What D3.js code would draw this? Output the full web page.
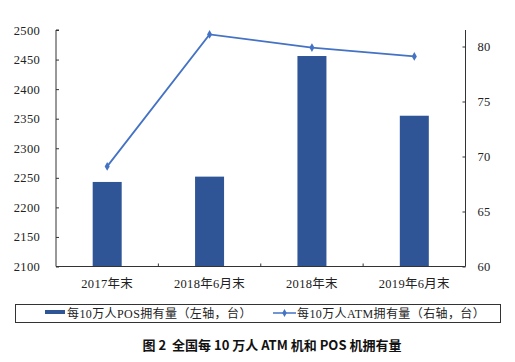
<!DOCTYPE html>
<html><head><meta charset="utf-8">
<script src="https://cdn.jsdelivr.net/npm/d3@7/dist/d3.min.js"></script>
<style>body{margin:0;background:#fff;}svg{display:block;}</style>
</head><body><svg id="c" width="515" height="362"></svg>
<script>
const categories = ["2017年末", "2018年6月末", "2018年末", "2019年6月末"];
const posValues = [2243, 2252, 2456, 2355];
const atmValues = [69.1, 81.1, 79.9, 79.1];
const leftTicks = [2100, 2150, 2200, 2250, 2300, 2350, 2400, 2450, 2500];
const rightTicks = [60, 65, 70, 75, 80];
const posName = "每10万人POS拥有量（左轴，台）";
const atmName = "每10万人ATM拥有量（右轴，台）";
const title = "图 2  全国每 10 万人 ATM 机和 POS 机拥有量";

const svg = d3.select("#c");
const L = 56, R = 465.5, T = 30, B = 266.5;
const serif = "'Liberation Serif','Times New Roman','Noto Sans CJK SC',serif";
const barColor = "#2F5597", lineColor = "#4472C4";

const x = d3.scaleBand().domain(categories).range([L, R]).paddingInner(0).paddingOuter(0);
const yL = d3.scaleLinear().domain([2100, 2500]).range([B, T]);
const yR = d3.scaleLinear().domain([60, 60 + (B - T) / 11]).range([B, T]);

// bars
const bw = 29;
svg.append("g").selectAll("rect").data(categories).join("rect")
  .attr("x", d => x(d) + x.bandwidth() / 2 - bw / 2)
  .attr("width", bw)
  .attr("y", (d, i) => yL(posValues[i]))
  .attr("height", (d, i) => B - yL(posValues[i]))
  .attr("fill", barColor);

// left axis
const gl = svg.append("g").attr("transform", `translate(${L},0)`)
  .call(d3.axisRight(yL).tickValues(leftTicks).tickSize(3).tickFormat(d3.format("d")));
gl.select(".domain").attr("stroke", "#333").attr("d", `M3,${T}H0V${B}`);
gl.selectAll(".tick line").attr("stroke", "#333");
gl.selectAll(".tick text").attr("x", -16).attr("text-anchor", "end")
  .style("font-family", serif).style("font-size", "12.5px").style("letter-spacing", "0.3px").attr("fill", "#222");

// right axis
const gr = svg.append("g").attr("transform", `translate(${R},0)`)
  .call(d3.axisLeft(yR).tickValues(rightTicks).tickSize(3).tickFormat(d3.format("d")));
gr.select(".domain").attr("stroke", "#333").attr("d", `M0,${T}V${B}`);
gr.selectAll(".tick line").attr("stroke", "#333");
gr.selectAll(".tick text").attr("x", 12).attr("text-anchor", "start")
  .style("font-family", serif).style("font-size", "12.5px").style("letter-spacing", "0.3px").attr("fill", "#222");

// x axis
const gx = svg.append("g").attr("transform", `translate(0,${B})`);
gx.append("line").attr("x1", L).attr("x2", R).attr("y1", 0).attr("y2", 0).attr("stroke", "#333");
gx.selectAll("line.t").data(categories.slice(1)).join("line").attr("class", "t")
  .attr("x1", d => x(d)).attr("x2", d => x(d)).attr("y1", 0).attr("y2", -3).attr("stroke", "#333");
gx.selectAll("text").data(categories).join("text")
  .attr("x", d => x(d) + x.bandwidth() / 2).attr("y", 21)
  .attr("text-anchor", "middle").style("font-family", serif).style("font-size", "12.5px")
  .style("letter-spacing", "0.3px").attr("fill", "#222").text(d => d);

// line
const line = d3.line().x((d, i) => x(categories[i]) + x.bandwidth() / 2).y(d => yR(d));
svg.append("path").datum(atmValues).attr("d", line).attr("fill", "none")
  .attr("stroke", lineColor).attr("stroke-width", 1.8);
svg.append("g").selectAll("path").data(atmValues).join("path")
  .attr("d", d3.symbol(d3.symbolDiamond, 22))
  .attr("transform", (d, i) => `translate(${x(categories[i]) + x.bandwidth() / 2},${yR(d)})`)
  .attr("fill", lineColor);

// legend
const lg = svg.append("g");
lg.append("rect").attr("x", 15.5).attr("y", 304.5).attr("width", 485).attr("height", 18)
  .attr("fill", "#fff").attr("stroke", "#333").attr("stroke-width", 1);
lg.append("rect").attr("x", 45).attr("y", 310).attr("width", 20).attr("height", 4).attr("fill", barColor);
lg.append("text").attr("x", 67).attr("y", 317.5).style("font-family", serif).style("font-size", "12px")
  .style("letter-spacing", "0.4px").attr("fill", "#222").text(posName);
lg.append("line").attr("x1", 273).attr("x2", 296).attr("y1", 313).attr("y2", 313)
  .attr("stroke", lineColor).attr("stroke-width", 1.5);
lg.append("path").attr("d", d3.symbol(d3.symbolDiamond, 18)).attr("transform", "translate(284.5,313)").attr("fill", lineColor);
lg.append("text").attr("x", 297).attr("y", 317.5).style("font-family", serif).style("font-size", "12px")
  .style("letter-spacing", "0.4px").attr("fill", "#222").text(atmName);

// title
svg.append("text").attr("x", 272).attr("y", 350).attr("text-anchor", "middle")
  .style("font-family", "'Noto Sans CJK SC','DejaVu Sans',sans-serif").style("font-weight", "bold")
  .style("font-size", "13px").attr("fill", "#111").style("white-space", "pre").attr("xml:space", "preserve").text(title);
</script></body></html>
